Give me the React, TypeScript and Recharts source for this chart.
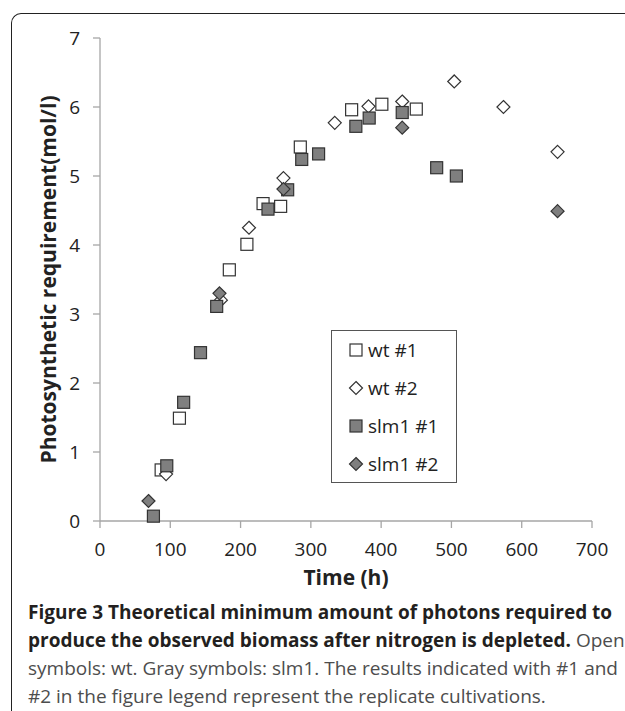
import { ScatterChart, Scatter, XAxis, YAxis, Legend } from "recharts";

// axis ticks
const xTicks = [0, 100, 200, 300, 400, 500, 600, 700];
const yTicks = [0, 1, 2, 3, 4, 5, 6, 7];

// wt #1 (open squares)
const wt1Time = [87, 113, 184, 209, 232, 257, 285, 358, 401, 450];
const wt1Value = [0.74, 1.49, 3.64, 4.01, 4.6, 4.56, 5.42, 5.96, 6.04, 5.97];

// wt #2 (open diamonds)
const wt2Time = [94, 172, 212, 261, 334, 382, 430, 504, 574, 651];
const wt2Value = [0.68, 3.2, 4.25, 4.97, 5.77, 6.01, 6.08, 6.37, 6.0, 5.35];

// slm1 #1 (gray squares)
const slm1Time = [76, 95, 119, 143, 166, 239, 267, 287, 311, 364, 383, 430, 479, 507];
const slm1Value = [0.07, 0.8, 1.72, 2.44, 3.11, 4.52, 4.8, 5.24, 5.32, 5.72, 5.84, 5.92, 5.12, 5.0];

// slm1 #2 (gray diamonds)
const slm2Time = [69, 170, 261, 430, 651];
const slm2Value = [0.29, 3.3, 4.81, 5.7, 4.49];

const FONT = '"Open Sans", sans-serif';
const OPEN = "#ffffff";
const GRAY = "#7f7f7f";
const EDGE = "#333333";
const AXIS = "#a6a6a6";

const toPoints = (xs: number[], ys: number[]) => xs.map((x, i) => ({ x, y: ys[i] }));

const series = [
  { name: "wt #1", data: toPoints(wt1Time, wt1Value), kind: "square", fill: OPEN },
  { name: "wt #2", data: toPoints(wt2Time, wt2Value), kind: "diamond", fill: OPEN },
  { name: "slm1 #1", data: toPoints(slm1Time, slm1Value), kind: "square", fill: GRAY },
  { name: "slm1 #2", data: toPoints(slm2Time, slm2Value), kind: "diamond", fill: GRAY },
];

const Mark = ({ kind, fill, cx, cy }: { kind: string; fill: string; cx: number; cy: number }) => {
  if (kind === "square") {
    const h = 6;
    return <rect x={cx - h} y={cy - h} width={2 * h} height={2 * h} fill={fill} stroke={EDGE} strokeWidth={1.2} />;
  }
  const h = 6.5;
  return (
    <polygon
      points={`${cx},${cy - h} ${cx + h},${cy} ${cx},${cy + h} ${cx - h},${cy}`}
      fill={fill}
      stroke={EDGE}
      strokeWidth={1.2}
    />
  );
};

const LegendBox = () => (
  <div style={{ width: 126, height: 153, border: "1.3px solid #555", boxSizing: "border-box", background: "#fff" }}>
    {series.map((s) => (
      <div key={s.name} style={{ height: 38, display: "flex", alignItems: "center" }}>
        <svg width={36} height={38} style={{ display: "block" }}>
          <Mark kind={s.kind} fill={s.fill} cx={24} cy={19} />
        </svg>
        <span style={{ fontFamily: FONT, fontSize: 19, color: "#222" }}>{s.name}</span>
      </div>
    ))}
  </div>
);

const YTitle = (props: any) => {
  const { viewBox } = props;
  const cx = 56;
  const cy = viewBox.y + viewBox.height / 2;
  return (
    <text
      x={cx}
      y={cy}
      transform={`rotate(-90 ${cx} ${cy})`}
      textAnchor="middle"
      fontFamily={FONT}
      fontSize={21}
      fontWeight="bold"
      fill="#222"
    >
      Photosynthetic requirement(mol/l)
    </text>
  );
};

const tickStyle = { fill: "#222", fontSize: 19, fontFamily: FONT };

export default function App() {
  return (
    <div
      style={{
        position: "absolute",
        left: 0,
        top: 0,
        width: 625,
        height: 711,
        background: "#fff",
        overflow: "hidden",
      }}
    >
      {/* figure frame, only top and left edges visible */}
      <div
        style={{
          position: "absolute",
          left: 11,
          top: 13,
          width: 700,
          height: 800,
          borderTop: "1.5px solid #222",
          borderLeft: "1.5px solid #222",
          borderTopLeftRadius: 10,
        }}
      />
      <ScatterChart width={625} height={600} margin={{ top: 38, right: 33, bottom: 0, left: 0 }}>
        <XAxis
          type="number"
          dataKey="x"
          domain={[0, 700]}
          ticks={xTicks}
          height={79}
          tick={tickStyle}
          tickSize={7}
          tickMargin={15}
          tickLine={{ stroke: AXIS, strokeWidth: 1.3 }}
          axisLine={{ stroke: AXIS, strokeWidth: 1.3 }}
          label={{
            value: "Time (h)",
            position: "insideBottom",
            offset: 15,
            style: { fontFamily: FONT, fontSize: 21, fontWeight: "bold", fill: "#222" },
          }}
        />
        <YAxis
          type="number"
          dataKey="y"
          domain={[0, 7]}
          ticks={yTicks}
          width={100}
          tick={tickStyle}
          tickSize={7}
          tickMargin={13}
          tickLine={{ stroke: AXIS, strokeWidth: 1.3 }}
          axisLine={{ stroke: AXIS, strokeWidth: 1.3 }}
          label={{ content: YTitle }}
        />
        {series.map((s) => (
          <Scatter
            key={s.name}
            name={s.name}
            data={s.data}
            isAnimationActive={false}
            shape={(p: any) => <Mark kind={s.kind} fill={s.fill} cx={p.cx} cy={p.cy} />}
          />
        ))}
        <Legend
          layout="vertical"
          align="center"
          verticalAlign="middle"
          content={() => <LegendBox />}
          wrapperStyle={{ left: 331, top: 330, width: 126, height: 153 }}
        />
      </ScatterChart>
      <div
        style={{
          position: "absolute",
          left: 28,
          top: 598,
          width: 600,
          fontFamily: FONT,
          fontSize: 19,
          lineHeight: "28px",
          color: "#4d4d4d",
          whiteSpace: "nowrap",
        }}
      >
        <div style={{ fontWeight: "bold", color: "#231f20" }}>
          Figure 3 Theoretical minimum amount of photons required to
        </div>
        <div>
          <span style={{ fontWeight: "bold", color: "#231f20" }}>
            produce the observed biomass after nitrogen is depleted.
          </span>{" "}
          Open
        </div>
        <div>symbols: wt. Gray symbols: slm1. The results indicated with #1 and</div>
        <div>#2 in the figure legend represent the replicate cultivations.</div>
      </div>
    </div>
  );
}
